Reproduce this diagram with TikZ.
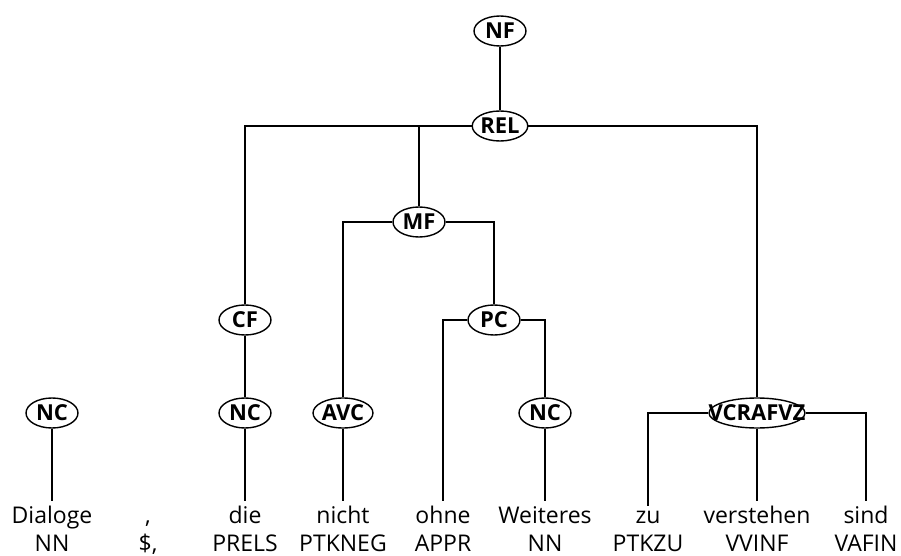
\documentclass[tikz,border=0pt]{standalone}
\usepackage{fontspec}
\setmainfont{Open Sans}
\usetikzlibrary{shapes.geometric}
\tikzset{
  cat/.style={draw, ellipse, fill=white, inner sep=0pt, minimum width=26pt, minimum height=15pt, font=\fontsize{11}{13}\selectfont\bfseries},
  word/.style={anchor=base, inner sep=2pt, font=\fontsize{11.5}{13}\selectfont},
  tag/.style={anchor=base, inner sep=2pt, font=\fontsize{11.5}{13}\selectfont}
}
\begin{document}
\begin{tikzpicture}[x=0.5pt, y=-0.5pt, line width=0.7pt]
        \useasboundingbox (0,0) rectangle (901,556);
        % Words
        \node[word] (w1) at (52, 523) {Dialoge};
        \node[word] (w2) at (148, 523) {,};
        \node[word] (w3) at (245, 523) {die};
        \node[word] (w4) at (343, 523) {nicht};
        \node[word] (w5) at (443, 523) {ohne};
        \node[word] (w6) at (545, 523) {Weiteres};
        \node[word] (w7) at (648, 523) {zu};
        \node[word] (w8) at (757, 523) {verstehen};
        \node[word] (w9) at (866, 523) {sind};
        
        % Tags
        \node[tag] (t1) at (52, 551) {NN};
        \node[tag] (t2) at (148, 551) {\$,};
        \node[tag] (t3) at (245, 551) {PRELS};
        \node[tag] (t4) at (343, 551) {PTKNEG};
        \node[tag] (t5) at (443, 551) {APPR};
        \node[tag] (t6) at (545, 551) {NN};
        \node[tag] (t7) at (648, 551) {PTKZU};
        \node[tag] (t8) at (757, 551) {VVINF};
        \node[tag] (t9) at (866, 551) {VAFIN};
        
        % Categories
        \node[cat] (nf) at (500, 31) {NF};
        \node[cat] (rel) at (500, 126) {REL};
        \node[cat] (mf) at (419, 222) {MF};
        \node[cat] (cf) at (245, 320) {CF};
        \node[cat] (pc) at (494, 320) {PC};
        \node[cat] (nca) at (52, 413) {NC};
        \node[cat] (ncb) at (245, 413) {NC};
        \node[cat] (avc) at (343, 413) {AVC};
        \node[cat] (ncc) at (545, 413) {NC};
        \node[cat, minimum width=48pt] (vc) at (757, 413) {\makebox[0pt]{VCRAFVZ}};
        
        % Edges
        \draw (nf) -- (rel);
        \draw (cf) |- (rel) -| (vc);
        \draw (mf |- rel) -- (mf);
        \draw (avc) |- (mf) -| (pc);
        \draw (w5) |- (pc) -| (ncc);
        \draw (w7) |- (vc) -| (w9);
        \draw (vc) -- (w8);
        \draw (cf) -- (ncb);
        \draw (nca) -- (w1);
        \draw (ncb) -- (w3);
        \draw (avc) -- (w4);
        \draw (ncc) -- (w6);
    \end{tikzpicture}
\end{document}
